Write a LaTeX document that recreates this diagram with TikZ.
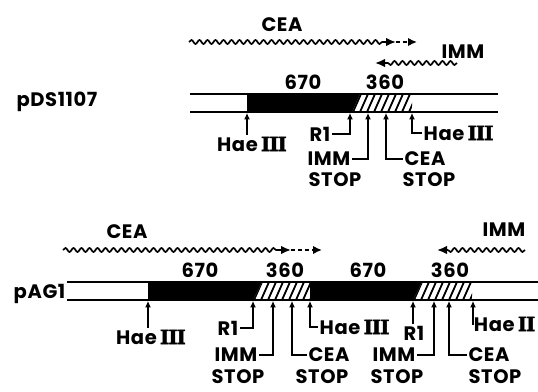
\documentclass[tikz,border=0pt]{standalone}
\usepackage{fontspec}
\setmainfont{Poppins}[LetterSpace=3]
\newfontfamily\romfont{DejaVu Serif}[FakeBold=2.5, LetterSpace=-4]
\usetikzlibrary{arrows.meta,decorations.pathmorphing}
\newcommand\hae{Hae\,{\romfont III}}
\begin{document}
\begin{tikzpicture}[x=1pt,y=-1pt,
 lbl/.style={font=\fontsize{19.5}{20}\selectfont\bfseries, inner sep=1.5pt},
 bar/.style={line width=1.7pt},
 blk/.style={fill=black},
 tick/.style={line width=1.5pt, -{Latex[length=6.5pt,width=6pt]}},
 wave/.style={line width=1.7pt, decorate, decoration={snake, segment length=8pt, amplitude=2pt}},
 head/.style={line width=1.7pt, -{Latex[length=10pt,width=8.5pt]}},
 dashhead/.style={line width=1.7pt, dash pattern=on 4pt off 3pt, -{Latex[length=9pt,width=8.5pt]}},
 hatch/.style={line width=1.8pt},
]
\useasboundingbox (0,0) rectangle (538,391);

% ---------- pDS1107 ----------
\fill[blk] (247,94) -- (360,94) -- (352,112) -- (247,112) -- cycle;
\begin{scope}
 \clip (360,94) -- (412,94) -- (412,112) -- (352,112) -- cycle;
 \foreach \x in {346,353,...,420} \draw[hatch] (\x,112) -- (\x+8,94);
\end{scope}
\draw[bar] (190,94) -- (498,94);
\draw[bar] (190,112) -- (498,112);

\node[lbl] (pds) at (57,102) {pDS1107};
\node[lbl] (n670a) at (303,82) {670};
\node[lbl] (n360a) at (385,82) {360};

% waves
\node[lbl] (ceaW1) at (282,25) {CEA};
\node[lbl] (immW1) at (463,52) {IMM};
\coordinate (wA0) at (189,42);
\coordinate (wA1) at (384,42);
\coordinate (wA2) at (396,42);
\coordinate (wA3) at (417,42);
\draw[wave] (wA0) -- (wA1);
\draw[head] (wA1) -- (wA2);
\draw[dashhead] (wA2) -- (wA3);
\coordinate (wB0) at (457,63);
\coordinate (wB1) at (387,63);
\coordinate (wB2) at (375,63);
\draw[wave] (wB0) -- (wB1);
\draw[head] (wB1) -- (wB2);

% sites
\coordinate (tA1) at (247,112.9);
\coordinate (tA2) at (350,112.9);
\coordinate (tA3) at (368,112.9);
\coordinate (tA4) at (386,112.9);
\coordinate (tA5) at (412,112.9);
\node[lbl] (haeA1) at (252,144) {\hae};
\node[lbl] (r1A) at (320,134) {R1};
\node[lbl] (immA) at (329,159) {IMM};
\node[lbl] (stopA1) at (335,180) {STOP};
\node[lbl] (ceaA) at (425,159) {CEA};
\node[lbl] (stopA2) at (429,180) {STOP};
\node[lbl, anchor=west] (haeA2) at (422,133) {\hae};
\draw[tick] (haeA1.north -| tA1) -- (tA1);
\draw[tick] (r1A.east) -| (tA2);
\draw[tick] (immA.east) -| (tA3);
\draw[tick] (ceaA.west) -| (tA4);
\draw[tick] (haeA2.west) -| (tA5);

% ---------- pAG1 ----------
\fill[blk] (148,282) -- (262,282) -- (253,300) -- (148,300) -- cycle;
\fill[blk] (310,282) -- (422,282) -- (413,300) -- (310,300) -- cycle;
\begin{scope}
 \clip (262,282) -- (310,282) -- (310,300) -- (253,300) -- cycle;
 \foreach \x in {247,254,...,315} \draw[hatch] (\x,300) -- (\x+8,282);
\end{scope}
\begin{scope}
 \clip (422,282) -- (472,282) -- (472,300) -- (413,300) -- cycle;
 \foreach \x in {407,414,...,477} \draw[hatch] (\x,300) -- (\x+8,282);
\end{scope}
\draw[bar] (67,282) -- (538,282);
\draw[bar] (67,300) -- (538,300);

\node[lbl, anchor=east] (pag) at (67,294) {pAG1};
\node[lbl] (n670b) at (200,270) {670};
\node[lbl] (n360b) at (285,270) {360};
\node[lbl] (n670c) at (368,270) {670};
\node[lbl] (n360c) at (450,270) {360};

\node[lbl] (ceaW2) at (127,232) {CEA};
\node[lbl] (immW2) at (504,230) {IMM};
\coordinate (wC0) at (63,250);
\coordinate (wC1) at (279,250);
\coordinate (wC2) at (291,250);
\coordinate (wC3) at (322,250);
\draw[wave] (wC0) -- (wC1);
\draw[head] (wC1) -- (wC2);
\draw[dashhead] (wC2) -- (wC3);
\coordinate (wD0) at (525,250);
\coordinate (wD1) at (448,250);
\coordinate (wD2) at (437,250);
\draw[wave] (wD0) -- (wD1);
\draw[head] (wD1) -- (wD2);

\coordinate (tB1) at (148,300.9);
\coordinate (tB2) at (253,300.9);
\coordinate (tB3) at (273,300.9);
\coordinate (tB4) at (292,300.9);
\coordinate (tB5) at (310,300.9);
\coordinate (tB6) at (413,300.9);
\coordinate (tB7) at (434,300.9);
\coordinate (tB8) at (449,300.9);
\coordinate (tB9) at (473,300.9);
\node[lbl] (haeB1) at (151,337) {\hae};
\node[lbl] (r1B) at (228,328) {R1};
\node[lbl] (immB) at (236,355) {IMM};
\node[lbl] (stopB1) at (238,377) {STOP};
\node[lbl] (ceaB) at (329,355) {CEA};
\node[lbl] (stopB2) at (322,377) {STOP};
\node[lbl, anchor=west] (haeB2) at (318,327) {\hae};
\node[lbl] (r1C) at (414,333) {R1};
\node[lbl] (immC) at (394,355) {IMM};
\node[lbl] (stopC1) at (397,377) {STOP};
\node[lbl] (ceaC) at (489,355) {CEA};
\node[lbl] (stopC2) at (495,377) {STOP};
\node[lbl, anchor=east] (haeC) at (537,324) {Hae\,{\romfont II}};
\draw[tick] (haeB1.north -| tB1) -- (tB1);
\draw[tick] (r1B.east) -| (tB2);
\draw[tick] (immB.east) -| (tB3);
\draw[tick] (ceaB.west) -| (tB4);
\draw[tick] (haeB2.west) -| (tB5);
\draw[tick] (r1C.north -| tB6) -- (tB6);
\draw[tick] (immC.east) -| (tB7);
\draw[tick] (ceaC.west) -| (tB8);
\draw[tick] (haeC.west) -| (tB9);
\end{tikzpicture}
\end{document}
